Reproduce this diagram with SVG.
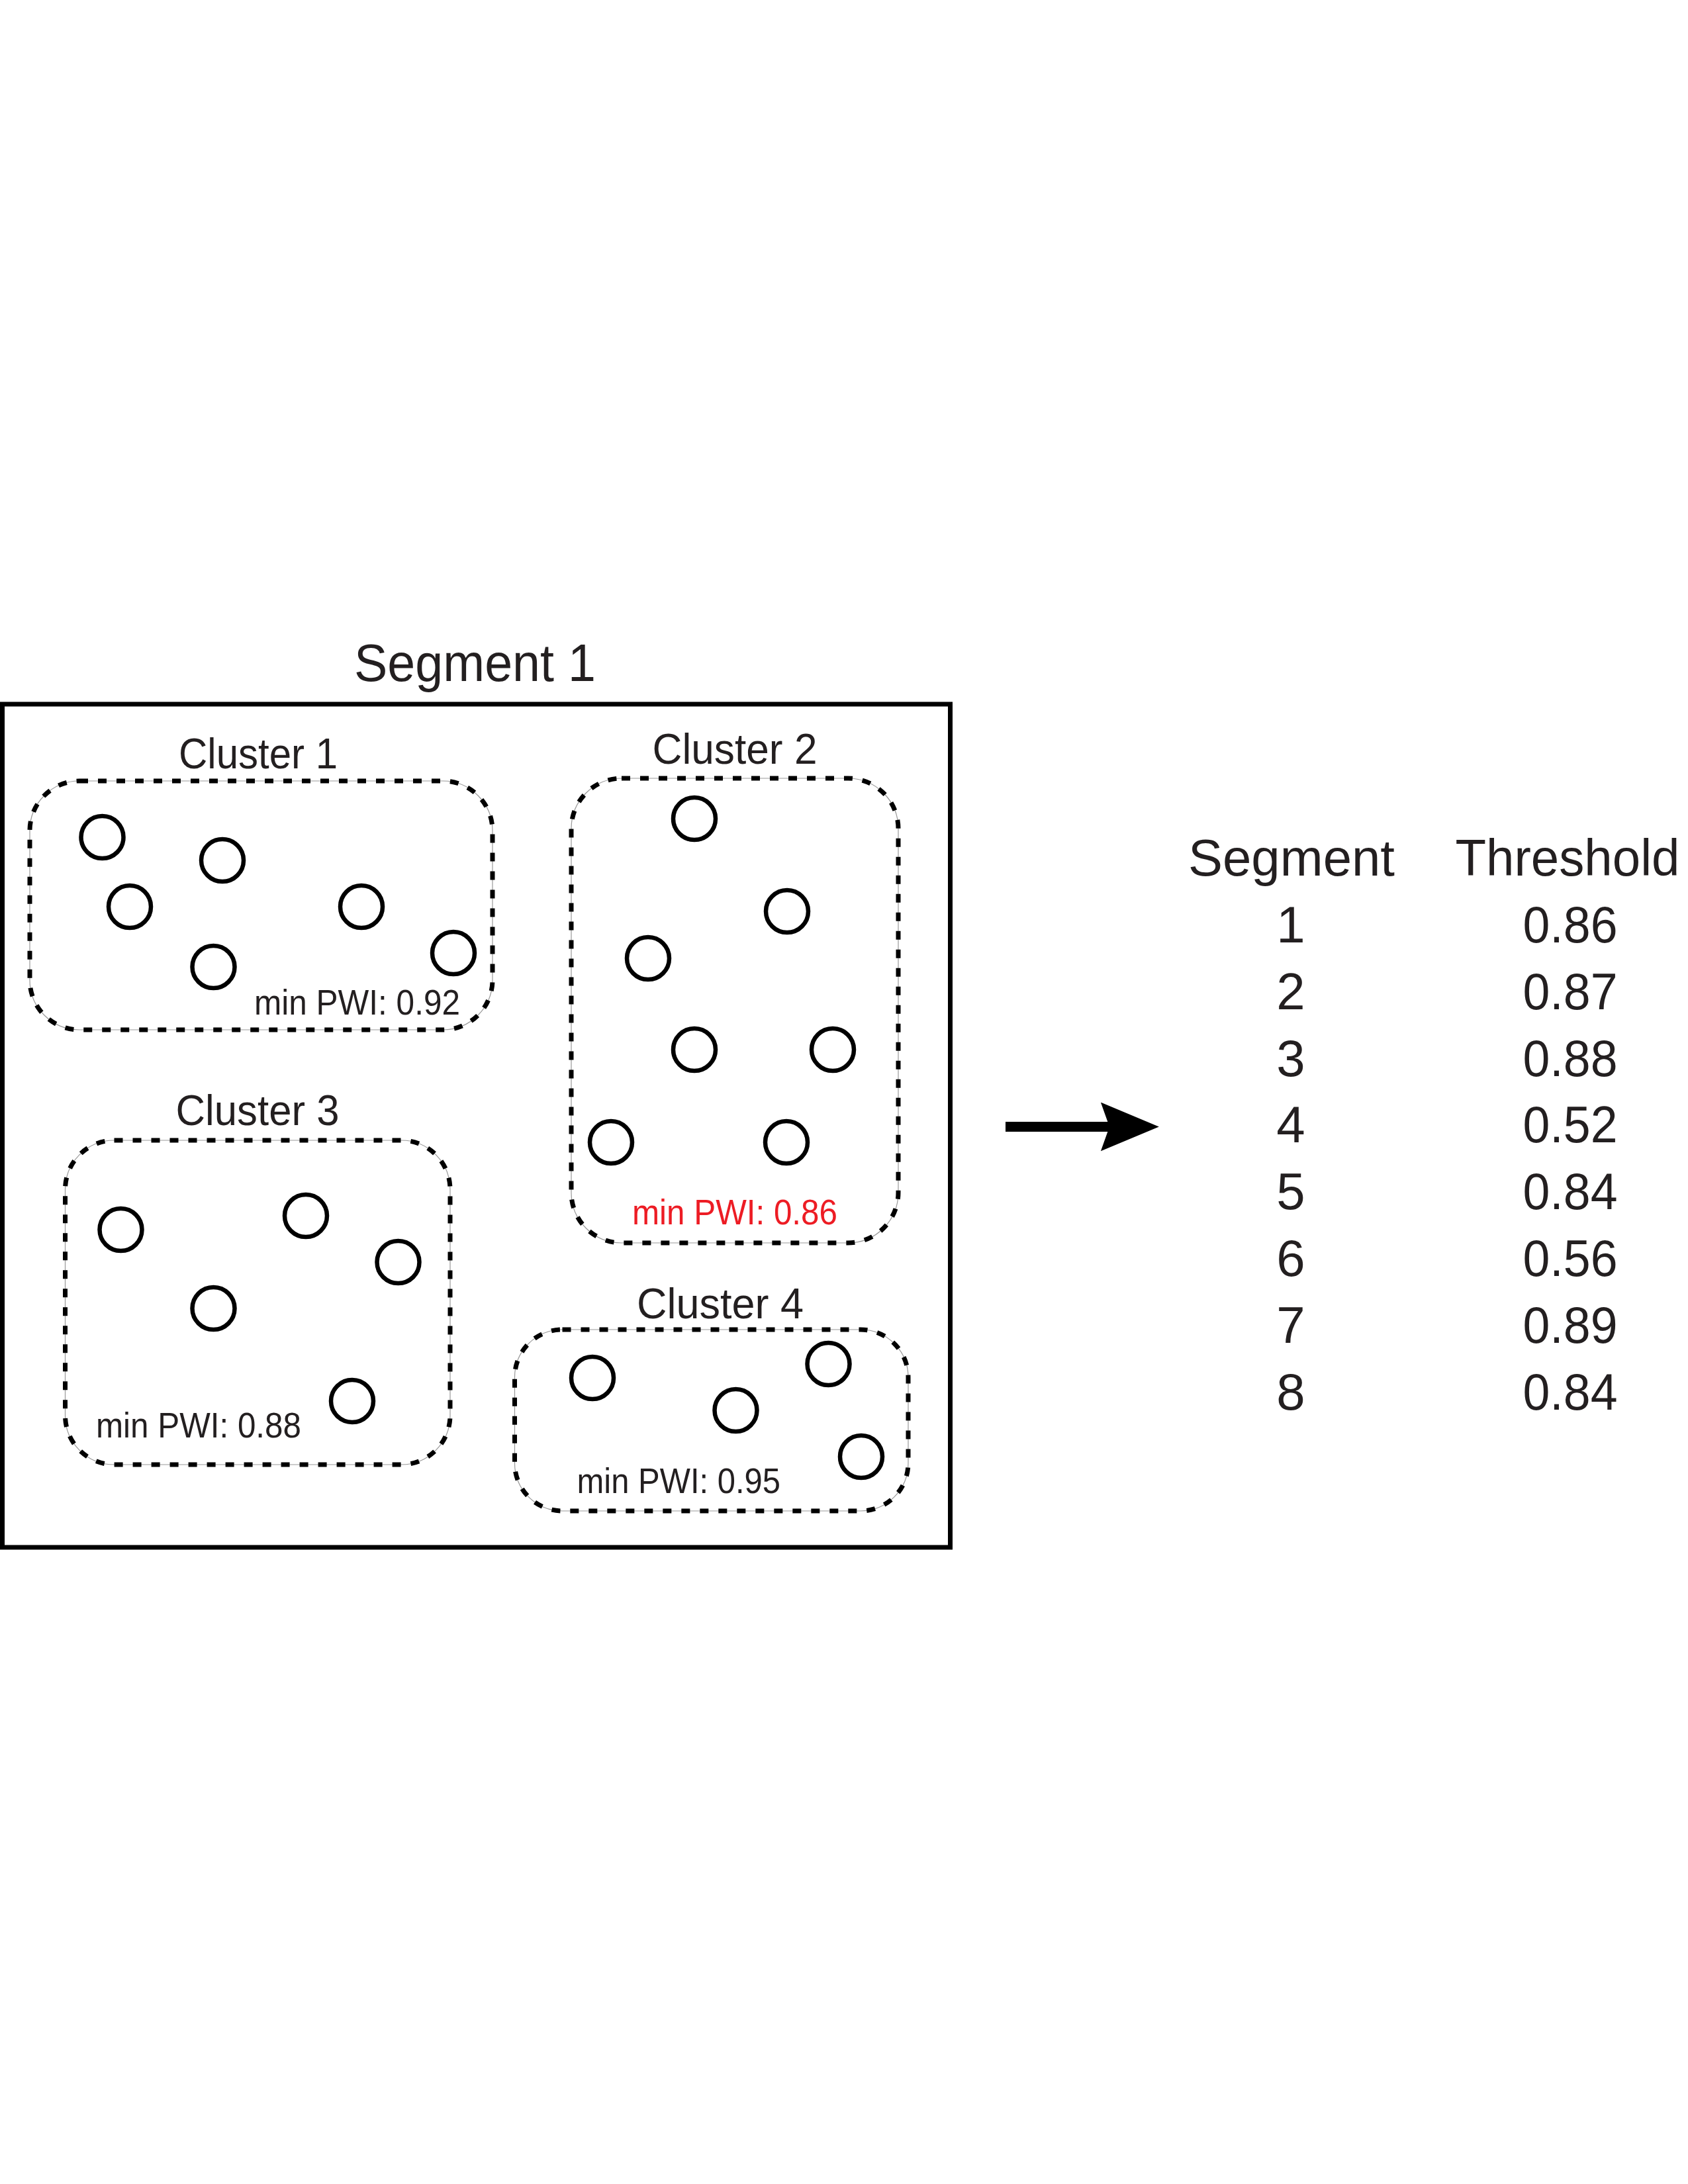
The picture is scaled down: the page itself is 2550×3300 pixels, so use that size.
<svg xmlns="http://www.w3.org/2000/svg" width="2550" height="3300" viewBox="0 0 2550 3300">
<style>
text{font-family:"Liberation Sans",Arial,sans-serif;fill:#231f20}
.title{font-size:80px}
.clabel{font-size:65px;text-anchor:middle}
.pwi{font-size:53px}
.red{fill:#ed1c24}
.th{font-size:78px;text-anchor:middle}
.hair{fill:none;stroke:#999;stroke-width:1.2}
.dash{fill:none;stroke:#000;stroke-width:7;stroke-dasharray:13 15}
.pt{fill:none;stroke:#000;stroke-width:6.5}
</style>
<defs>
<marker id="head" markerUnits="userSpaceOnUse" markerWidth="88" markerHeight="74" viewBox="0 0 87 73" refX="13" refY="36.5" orient="auto">
<path d="M0,0 L87,36.5 L0,73 L13,36.5 Z" fill="#000"/>
</marker>
</defs>
<rect width="2550" height="3300" fill="#fff"/>
<g id="segment1">
<text class="title" x="535" y="1029" textLength="365" lengthAdjust="spacingAndGlyphs">Segment 1</text>
<rect x="3.5" y="1064" width="1432" height="1274" fill="none" stroke="#000" stroke-width="7"/>
</g>
<g id="cluster1">
<text class="clabel" x="390" y="1161" textLength="240" lengthAdjust="spacingAndGlyphs">Cluster 1</text>
<rect class="hair" x="45" y="1180" width="699" height="376" rx="75" ry="75"/>
<rect class="dash" x="45" y="1180" width="699" height="376" rx="75" ry="75"/>
<circle class="pt" cx="154.5" cy="1265" r="32"/>
<circle class="pt" cx="336" cy="1300" r="32"/>
<circle class="pt" cx="196" cy="1370" r="32"/>
<circle class="pt" cx="546" cy="1370" r="32"/>
<circle class="pt" cx="322.5" cy="1461" r="32"/>
<circle class="pt" cx="685" cy="1440" r="32"/>
<text class="pwi" x="384" y="1533" textLength="311" lengthAdjust="spacingAndGlyphs">min PWI: 0.92</text>
</g>
<g id="cluster2">
<text class="clabel" x="1110" y="1154" textLength="249" lengthAdjust="spacingAndGlyphs">Cluster 2</text>
<rect class="hair" x="863" y="1176" width="494" height="702" rx="76" ry="76"/>
<rect class="dash" x="863" y="1176" width="494" height="702" rx="76" ry="76"/>
<circle class="pt" cx="1049" cy="1237" r="32"/>
<circle class="pt" cx="1189" cy="1377" r="32"/>
<circle class="pt" cx="979" cy="1448" r="32"/>
<circle class="pt" cx="1049" cy="1586" r="32"/>
<circle class="pt" cx="1258" cy="1586" r="32"/>
<circle class="pt" cx="923" cy="1726" r="32"/>
<circle class="pt" cx="1188" cy="1726" r="32"/>
<text class="pwi red" x="955" y="1850" textLength="310" lengthAdjust="spacingAndGlyphs">min PWI: 0.86</text>
</g>
<g id="cluster3">
<text class="clabel" x="389" y="1700" textLength="247" lengthAdjust="spacingAndGlyphs">Cluster 3</text>
<rect class="hair" x="98.5" y="1723" width="581.5" height="490" rx="74" ry="74"/>
<rect class="dash" x="98.5" y="1723" width="581.5" height="490" rx="74" ry="74"/>
<circle class="pt" cx="182.5" cy="1858" r="32"/>
<circle class="pt" cx="462" cy="1837" r="32"/>
<circle class="pt" cx="601.5" cy="1907" r="32"/>
<circle class="pt" cx="322.5" cy="1977" r="32"/>
<circle class="pt" cx="532" cy="2117" r="32"/>
<text class="pwi" x="145" y="2172" textLength="310" lengthAdjust="spacingAndGlyphs">min PWI: 0.88</text>
</g>
<g id="cluster4">
<text class="clabel" x="1088" y="1992" textLength="252" lengthAdjust="spacingAndGlyphs">Cluster 4</text>
<rect class="hair" x="777.5" y="2009" width="594.5" height="274" rx="72" ry="72"/>
<rect class="dash" x="777.5" y="2009" width="594.5" height="274" rx="72" ry="72"/>
<circle class="pt" cx="895" cy="2082" r="32"/>
<circle class="pt" cx="1251.5" cy="2061" r="32"/>
<circle class="pt" cx="1111.5" cy="2131" r="32"/>
<circle class="pt" cx="1301" cy="2201" r="32"/>
<text class="pwi" x="871.5" y="2256" textLength="307.5" lengthAdjust="spacingAndGlyphs">min PWI: 0.95</text>
</g>
<g id="connectors">
<line x1="1519" y1="1702.5" x2="1676" y2="1702.5" stroke="#000" stroke-width="15" marker-end="url(#head)"/>
</g>
<g id="table">
<text class="th" x="1951" y="1323" textLength="312" lengthAdjust="spacingAndGlyphs">Segment</text>
<text class="th" x="2368" y="1323" textLength="339" lengthAdjust="spacingAndGlyphs">Threshold</text>
<text class="th" x="1950" y="1424">1</text>
<text class="th" x="1950" y="1525">2</text>
<text class="th" x="1950" y="1626">3</text>
<text class="th" x="1950" y="1726">4</text>
<text class="th" x="1950" y="1827">5</text>
<text class="th" x="1950" y="1928">6</text>
<text class="th" x="1950" y="2029">7</text>
<text class="th" x="1950" y="2130">8</text>
<text class="th" x="2372" y="1424" textLength="143" lengthAdjust="spacingAndGlyphs">0.86</text>
<text class="th" x="2372" y="1525" textLength="143" lengthAdjust="spacingAndGlyphs">0.87</text>
<text class="th" x="2372" y="1626" textLength="143" lengthAdjust="spacingAndGlyphs">0.88</text>
<text class="th" x="2372" y="1726" textLength="143" lengthAdjust="spacingAndGlyphs">0.52</text>
<text class="th" x="2372" y="1827" textLength="143" lengthAdjust="spacingAndGlyphs">0.84</text>
<text class="th" x="2372" y="1928" textLength="143" lengthAdjust="spacingAndGlyphs">0.56</text>
<text class="th" x="2372" y="2029" textLength="143" lengthAdjust="spacingAndGlyphs">0.89</text>
<text class="th" x="2372" y="2130" textLength="143" lengthAdjust="spacingAndGlyphs">0.84</text>
</g>
</svg>
